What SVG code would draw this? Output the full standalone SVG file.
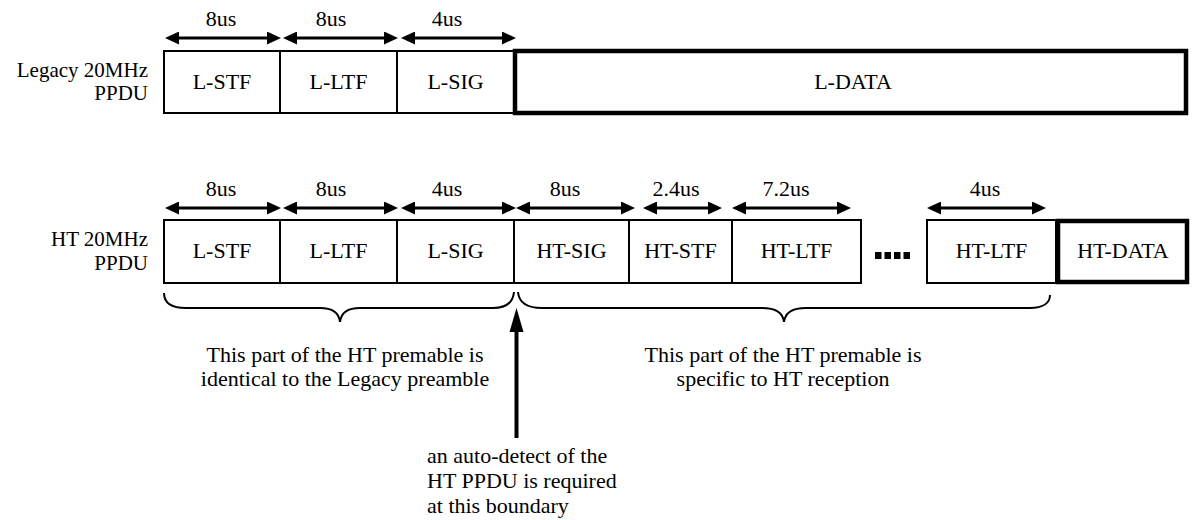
<svg xmlns="http://www.w3.org/2000/svg" width="1192" height="520" viewBox="0 0 1192 520" font-family="'Liberation Serif', 'Times New Roman', 'DejaVu Serif', serif">
<style>
text { font-family: 'Liberation Serif', 'Times New Roman', 'DejaVu Serif', serif; font-size: 22px; fill: #000; }
.c { text-anchor: middle; }
.r { text-anchor: end; font-size: 21px; }
.box { fill: #fff; stroke: #000; stroke-width: 2; }
.thick { fill: #fff; stroke: #000; stroke-width: 4.5; }
.dim { stroke: #000; stroke-width: 3; fill: none; marker-start: url(#ah); marker-end: url(#ah); }
.brace { stroke: #000; stroke-width: 2; fill: none; }
</style>
<defs>
<marker id="ah" markerUnits="userSpaceOnUse" markerWidth="14" markerHeight="13" refX="4" refY="6.5" orient="auto-start-reverse" viewBox="0 0 14 13">
<path d="M0,0 L14,6.5 L0,13 z" fill="#000"/>
</marker>
</defs>
<rect width="1192" height="520" fill="#fff"/>

<g id="label-legacy">
<text class="r" x="148" y="77">Legacy 20MHz</text>
<text class="r" x="148" y="100">PPDU</text>
</g>
<g id="label-ht">
<text class="r" x="148" y="246">HT 20MHz</text>
<text class="r" x="148" y="270">PPDU</text>
</g>

<g id="leg-lstf"><rect class="box" x="164" y="51" width="116" height="62"/><text class="c" x="222" y="89">L-STF</text></g>
<g id="leg-lltf"><rect class="box" x="280" y="51" width="117" height="62"/><text class="c" x="338.5" y="89">L-LTF</text></g>
<g id="leg-lsig"><rect class="box" x="397" y="51" width="117" height="62"/><text class="c" x="455.5" y="89">L-SIG</text></g>
<g id="leg-ldata"><rect class="thick" x="515" y="51" width="671" height="62"/><text class="c" x="853" y="89">L-DATA</text></g>

<g id="ht-lstf"><rect class="box" x="164" y="220" width="116" height="63"/><text class="c" x="222" y="258">L-STF</text></g>
<g id="ht-lltf"><rect class="box" x="280" y="220" width="117" height="63"/><text class="c" x="338.5" y="258">L-LTF</text></g>
<g id="ht-lsig"><rect class="box" x="397" y="220" width="117" height="63"/><text class="c" x="455.5" y="258">L-SIG</text></g>
<g id="ht-htsig"><rect class="box" x="514" y="220" width="115" height="63"/><text class="c" x="571.5" y="258">HT-SIG</text></g>
<g id="ht-htstf"><rect class="box" x="629" y="220" width="103" height="63"/><text class="c" x="680.5" y="258">HT-STF</text></g>
<g id="ht-htltf1"><rect class="box" x="732" y="220" width="129" height="63"/><text class="c" x="796.5" y="258">HT-LTF</text></g>
<g id="ht-dots">
<rect x="875" y="252" width="6.5" height="7" fill="#000"/>
<rect x="884.5" y="252" width="6.5" height="7" fill="#000"/>
<rect x="894" y="252" width="6.5" height="7" fill="#000"/>
<rect x="903.5" y="252" width="6.5" height="7" fill="#000"/>
</g>
<g id="ht-htltf2"><rect class="box" x="927" y="220" width="129" height="63"/><text class="c" x="991.5" y="258">HT-LTF</text></g>
<g id="ht-htdata"><rect class="thick" x="1058" y="221" width="129" height="61"/><text class="c" x="1123" y="258">HT-DATA</text></g>

<g id="durations">
<text class="c" x="221" y="26">8us</text>
<text class="c" x="331" y="26">8us</text>
<text class="c" x="447" y="26">4us</text>
<text class="c" x="221" y="196">8us</text>
<text class="c" x="331" y="196">8us</text>
<text class="c" x="447" y="196">4us</text>
<text class="c" x="565" y="196">8us</text>
<text class="c" x="676" y="196">2.4us</text>
<text class="c" x="786" y="196">7.2us</text>
<text class="c" x="985" y="196">4us</text>
</g>

<g id="notes">
<text class="c" x="345" y="362">This part of the HT premable is</text>
<text class="c" x="345" y="386">identical to the Legacy preamble</text>
<text class="c" x="783" y="362">This part of the HT premable is</text>
<text class="c" x="783" y="386">specific to HT reception</text>
<text x="427" y="463">an auto-detect of the</text>
<text x="427" y="488">HT PPDU is required</text>
<text x="427" y="513">at this boundary</text>
</g>

<g id="connectors">
<line class="dim" x1="175" y1="38" x2="271" y2="38"/>
<line class="dim" x1="293" y1="38" x2="388" y2="38"/>
<line class="dim" x1="411" y1="38" x2="506" y2="38"/>
<line class="dim" x1="175" y1="208" x2="271" y2="208"/>
<line class="dim" x1="293" y1="208" x2="388" y2="208"/>
<line class="dim" x1="411" y1="208" x2="506" y2="208"/>
<line class="dim" x1="526" y1="208" x2="625" y2="208"/>
<line class="dim" x1="653" y1="208" x2="712" y2="208"/>
<line class="dim" x1="742" y1="208" x2="841" y2="208"/>
<line class="dim" x1="937" y1="208" x2="1036" y2="208"/>
<path class="brace" d="M164,293 C164,303 172,308 186,308 L320,308 C333,308 339,313 340,322 C341,313 347,308 360,308 L493,308 C506,308 513,303 514,292"/>
<path class="brace" d="M518,292 C519,303 527,308 542,308 L762,308 C776,308 783,313 784,322 C785,313 792,308 806,308 L1030,308 C1043,308 1050,303 1050,295"/>
<line x1="516.5" y1="438" x2="516.5" y2="328" stroke="#000" stroke-width="4"/>
<path d="M516.5,308 L523.5,332 L509.5,332 z" fill="#000"/>
</g>
</svg>
